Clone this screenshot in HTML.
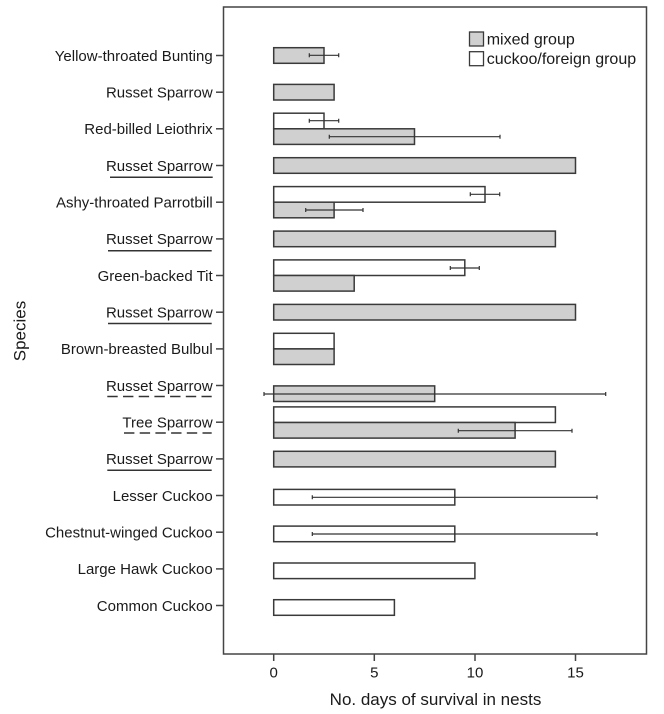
<!DOCTYPE html>
<html><head><meta charset="utf-8"><style>
html,body{margin:0;padding:0;background:#fff;}
svg{display:block;}
text{font-family:"Liberation Sans",Arial,sans-serif;fill:#1a1a1a;}
</style></head><body>
<svg width="664" height="714" viewBox="0 0 664 714" xmlns="http://www.w3.org/2000/svg">
<rect x="0" y="0" width="664" height="714" fill="#fff"/>
<!-- frame -->
<rect x="223.5" y="7" width="423" height="647" fill="none" stroke="#444" stroke-width="1.5"/>
<!-- y ticks -->
<g stroke="#444" stroke-width="1.5">
<line x1="216" y1="55.5" x2="223.5" y2="55.5"/>
<line x1="216" y1="92.2" x2="223.5" y2="92.2"/>
<line x1="216" y1="128.8" x2="223.5" y2="128.8"/>
<line x1="216" y1="165.5" x2="223.5" y2="165.5"/>
<line x1="216" y1="202.2" x2="223.5" y2="202.2"/>
<line x1="216" y1="238.9" x2="223.5" y2="238.9"/>
<line x1="216" y1="275.5" x2="223.5" y2="275.5"/>
<line x1="216" y1="312.2" x2="223.5" y2="312.2"/>
<line x1="216" y1="348.9" x2="223.5" y2="348.9"/>
<line x1="216" y1="385.5" x2="223.5" y2="385.5"/>
<line x1="216" y1="422.2" x2="223.5" y2="422.2"/>
<line x1="216" y1="458.9" x2="223.5" y2="458.9"/>
<line x1="216" y1="495.5" x2="223.5" y2="495.5"/>
<line x1="216" y1="532.2" x2="223.5" y2="532.2"/>
<line x1="216" y1="568.9" x2="223.5" y2="568.9"/>
<line x1="216" y1="605.5" x2="223.5" y2="605.5"/>
<!-- x ticks -->
<line x1="273.7" y1="654" x2="273.7" y2="661"/>
<line x1="374.3" y1="654" x2="374.3" y2="661"/>
<line x1="475" y1="654" x2="475" y2="661"/>
<line x1="575.5" y1="654" x2="575.5" y2="661"/>
</g>
<!-- tick labels -->
<g font-size="15" text-anchor="middle">
<text x="273.7" y="677.3">0</text>
<text x="374.3" y="677.3">5</text>
<text x="475" y="677.3">10</text>
<text x="575.5" y="677.3">15</text>
</g>
<text x="435.5" y="705" font-size="17" text-anchor="middle">No. days of survival in nests</text>
<text transform="translate(25.5,331) rotate(-90)" font-size="17" text-anchor="middle">Species</text>
<!-- species labels -->
<g font-size="15" text-anchor="end">
<text x="212.7" y="60.8">Yellow-throated Bunting</text>
<text x="212.7" y="97.5">Russet Sparrow</text>
<text x="212.7" y="134.1">Red-billed Leiothrix</text>
<text x="212.7" y="170.8">Russet Sparrow</text>
<text x="212.7" y="207.5">Ashy-throated Parrotbill</text>
<text x="212.7" y="244.2">Russet Sparrow</text>
<text x="212.7" y="280.8">Green-backed Tit</text>
<text x="212.7" y="317.5">Russet Sparrow</text>
<text x="212.7" y="354.2">Brown-breasted Bulbul</text>
<text x="212.7" y="390.8">Russet Sparrow</text>
<text x="212.7" y="427.5">Tree Sparrow</text>
<text x="212.7" y="464.2">Russet Sparrow</text>
<text x="212.7" y="500.8">Lesser Cuckoo</text>
<text x="212.7" y="537.5">Chestnut-winged Cuckoo</text>
<text x="212.7" y="574.2">Large Hawk Cuckoo</text>
<text x="212.7" y="610.8">Common Cuckoo</text>
</g>
<!-- underlines -->
<g stroke="#333" stroke-width="1.5">
<line x1="110" y1="177.3" x2="212.7" y2="177.3"/>
<line x1="108" y1="250.7" x2="211.7" y2="250.7"/>
<line x1="108" y1="323.5" x2="211.7" y2="323.5"/>
<line x1="107.3" y1="396.5" x2="211.7" y2="396.5" stroke-dasharray="10.4 5.3"/>
<line x1="124" y1="433" x2="211.7" y2="433" stroke-dasharray="10.4 5.3"/>
<line x1="107.3" y1="470.3" x2="211.7" y2="470.3"/>
</g>
<!-- bars -->
<g stroke="#3a3a3a" stroke-width="1.5">
<!-- 1 -->
<rect x="273.7" y="47.7" width="50.3" height="15.6" fill="#d0d0d0"/>
<!-- 2 -->
<rect x="273.7" y="84.4" width="60.4" height="15.6" fill="#d0d0d0"/>
<!-- 3 -->
<rect x="273.7" y="113.2" width="50.3" height="15.6" fill="#fff"/>
<rect x="273.7" y="128.8" width="140.8" height="15.6" fill="#d0d0d0"/>
<!-- 4 -->
<rect x="273.7" y="157.7" width="301.8" height="15.6" fill="#d0d0d0"/>
<!-- 5 -->
<rect x="273.7" y="186.6" width="211.3" height="15.6" fill="#fff"/>
<rect x="273.7" y="202.2" width="60.4" height="15.6" fill="#d0d0d0"/>
<!-- 6 -->
<rect x="273.7" y="231.1" width="281.7" height="15.6" fill="#d0d0d0"/>
<!-- 7 -->
<rect x="273.7" y="259.9" width="191.1" height="15.6" fill="#fff"/>
<rect x="273.7" y="275.5" width="80.5" height="15.6" fill="#d0d0d0"/>
<!-- 8 -->
<rect x="273.7" y="304.4" width="301.8" height="15.6" fill="#d0d0d0"/>
<!-- 9 -->
<rect x="273.7" y="333.3" width="60.4" height="15.6" fill="#fff"/>
<rect x="273.7" y="348.9" width="60.4" height="15.6" fill="#d0d0d0"/>
<!-- 10 -->
<rect x="273.7" y="385.9" width="161" height="15.6" fill="#d0d0d0"/>
<!-- 11 -->
<rect x="273.7" y="406.9" width="281.7" height="15.6" fill="#fff"/>
<rect x="273.7" y="422.5" width="241.4" height="15.6" fill="#d0d0d0"/>
<!-- 12 -->
<rect x="273.7" y="451.3" width="281.7" height="15.6" fill="#d0d0d0"/>
<!-- 13 -->
<rect x="273.7" y="489.4" width="181.1" height="15.6" fill="#fff"/>
<!-- 14 -->
<rect x="273.7" y="526.1" width="181.1" height="15.6" fill="#fff"/>
<!-- 15 -->
<rect x="273.7" y="563" width="201.2" height="15.6" fill="#fff"/>
<!-- 16 -->
<rect x="273.7" y="599.7" width="120.7" height="15.6" fill="#fff"/>
</g>
<!-- error bars -->
<g stroke="#333" stroke-width="1.2" fill="none">
<path d="M309.3 55.3H338.7M309.3 53.3V57.3M338.7 53.3V57.3"/>
<path d="M309.3 120.7H338.7M309.3 118.7V122.7M338.7 118.7V122.7"/>
<path d="M329.3 136.7H500M329.3 134.7V138.7M500 134.7V138.7"/>
<path d="M470.3 194.3H499.7M470.3 192.3V196.3M499.7 192.3V196.3"/>
<path d="M305.7 210H363M305.7 208V212M363 208V212"/>
<path d="M450.3 268H479.3M450.3 266V270M479.3 266V270"/>
<path d="M264 394H605.7M264 392V396M605.7 392V396"/>
<path d="M458.3 430.7H572M458.3 428.7V432.7M572 428.7V432.7"/>
<path d="M312.3 497.3H597M312.3 495.3V499.3M597 495.3V499.3"/>
<path d="M312.3 534H597M312.3 532V536M597 532V536"/>
</g>
<!-- legend -->
<rect x="469.5" y="32" width="14" height="14" fill="#d0d0d0" stroke="#3a3a3a" stroke-width="1.3"/>
<rect x="469.5" y="51.7" width="14" height="14" fill="#fff" stroke="#3a3a3a" stroke-width="1.3"/>
<text x="486.7" y="44.5" font-size="16">mixed group</text>
<text x="486.7" y="64.2" font-size="16">cuckoo/foreign group</text>
</svg>
</body></html>
